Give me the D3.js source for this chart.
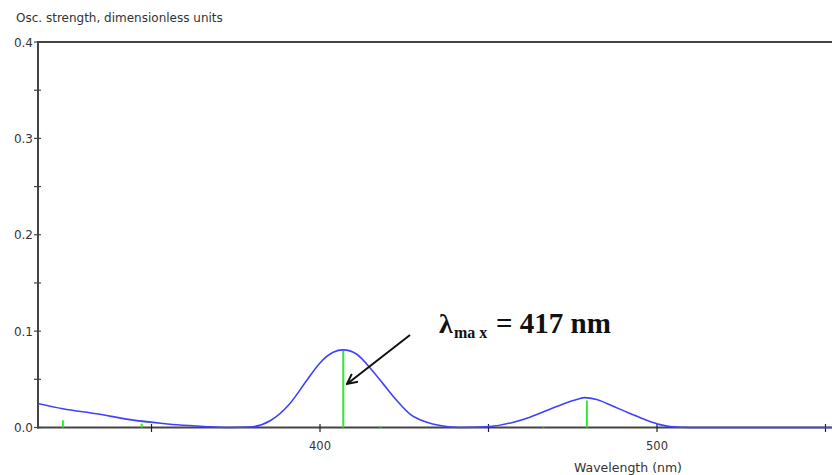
<!DOCTYPE html>
<html>
<head>
<meta charset="utf-8">
<script src="https://cdn.jsdelivr.net/npm/d3@7"></script>
<style>
  body { margin: 0; background: #fff; }
  svg { display: block; }
</style>
</head>
<body>
<div id="chart"></div>
<script>
// spectrum envelope (wavelength nm, oscillator strength)
const curveNm = [316.3, 323.7, 333.8, 343.6, 353.4, 358.5, 363.5, 368, 373.3, 379.2, 385.2, 391.1, 396.1, 400, 403.9, 406.9, 410.9, 414.8, 418.8, 422.8, 426.7, 431.7, 435.6, 441.5, 450.4, 457.4, 462.3, 467.3, 472.2, 476.2, 478.6, 482.1, 487, 492, 496.9, 500.9, 503.9, 510, 560];
const curveF  = [0.025, 0.0195, 0.0142, 0.0082, 0.0042, 0.0026, 0.0015, 0.0006, 0, 0.0005, 0.007, 0.025, 0.049, 0.067, 0.078, 0.0805, 0.076, 0.062, 0.045, 0.028, 0.014, 0.0055, 0.002, 0, 0.001, 0.0055, 0.0107, 0.0176, 0.0245, 0.029, 0.031, 0.029, 0.022, 0.0146, 0.0076, 0.003, 0.001, 0, 0];

// individual transitions
const stickNm = [323.7, 347.1, 406.9, 418.0, 466.3, 479.2];
const stickF  = [0.0075, 0.004, 0.0795, 0.0012, 0.0012, 0.028];

const xMajor = [400, 500];
const xMinor = [350, 450, 550];
const yMajor = [0, 0.1, 0.2, 0.3, 0.4];
const yMinor = [0.05, 0.15, 0.25, 0.35];

const w = 832, h = 475;
const x = d3.scaleLinear().domain([400, 500]).range([320, 657]);
const y = d3.scaleLinear().domain([0, 0.4]).range([427.5, 42]);

const svg = d3.select("#chart").append("svg")
  .attr("width", w).attr("height", h);

const axisCol = "#444";
const labFont = "'DejaVu Sans', sans-serif";

svg.append("defs").append("clipPath").attr("id", "plot")
  .append("rect").attr("x", 38).attr("y", 30).attr("width", w - 38).attr("height", 400);

// frame: top and axes
svg.append("line").attr("x1", 37).attr("x2", w).attr("y1", y(0.4)).attr("y2", y(0.4))
  .attr("stroke", axisCol).attr("stroke-width", 2);
svg.append("line").attr("x1", 38).attr("x2", 38).attr("y1", y(0.4)).attr("y2", y(0) + 1)
  .attr("stroke", axisCol).attr("stroke-width", 2);
svg.append("line").attr("x1", 37).attr("x2", w).attr("y1", y(0)).attr("y2", y(0))
  .attr("stroke", axisCol).attr("stroke-width", 2);

// y ticks
svg.selectAll(".yt").data(yMajor.concat(yMinor)).enter().append("line")
  .attr("x1", 34).attr("x2", 41).attr("y1", d => y(d)).attr("y2", d => y(d))
  .attr("stroke", axisCol).attr("stroke-width", 1.2);
svg.selectAll(".yl").data(yMajor).enter().append("text")
  .attr("x", 33).attr("y", d => y(d) + 4.5)
  .attr("text-anchor", "end")
  .style("font", "12px " + labFont).attr("fill", "#333")
  .text(d => d.toFixed(1));

// x ticks
svg.selectAll(".xt").data(xMajor.concat(xMinor)).enter().append("line")
  .attr("x1", d => x(d)).attr("x2", d => x(d)).attr("y1", 424).attr("y2", 432)
  .attr("stroke", "#222").attr("stroke-width", 1.2);
svg.selectAll(".xl").data(xMajor).enter().append("text")
  .attr("x", d => x(d)).attr("y", 450)
  .attr("text-anchor", "middle")
  .style("font", "11.5px " + labFont).attr("fill", "#333")
  .text(d => d);

svg.append("text").attr("x", 16).attr("y", 22)
  .style("font", "12px " + labFont).attr("fill", "#333")
  .text("Osc. strength, dimensionless units");
svg.append("text").attr("x", 628).attr("y", 472).attr("text-anchor", "middle")
  .style("font", "12.5px " + labFont).attr("fill", "#333")
  .text("Wavelength (nm)");

const g = svg.append("g").attr("clip-path", "url(#plot)");

// sticks
g.selectAll(".stick").data(stickNm).enter().append("line")
  .attr("x1", d => x(d)).attr("x2", d => x(d))
  .attr("y1", y(0)).attr("y2", (d, i) => y(stickF[i]))
  .attr("stroke", "#33e833").attr("stroke-width", 2);

// envelope
const line = d3.line()
  .x(d => x(d[0])).y(d => y(d[1]))
  .curve(d3.curveMonotoneX);
g.append("path").datum(curveNm.map((d, i) => [d, curveF[i]]))
  .attr("d", line).attr("fill", "none")
  .attr("stroke", "#4040ff").attr("stroke-width", 1.6);

// annotation arrow
svg.append("defs").append("marker").attr("id", "arr")
  .attr("viewBox", "0 0 12 12").attr("refX", 11).attr("refY", 6)
  .attr("markerWidth", 12).attr("markerHeight", 12).attr("markerUnits", "userSpaceOnUse")
  .attr("orient", "auto")
  .append("path").attr("d", "M1,1 L11,6 L1,11").attr("fill", "none")
  .attr("stroke", "#111").attr("stroke-width", 2);
svg.append("line")
  .attr("x1", 410).attr("y1", 335).attr("x2", 347).attr("y2", 384)
  .attr("stroke", "#111").attr("stroke-width", 2)
  .attr("marker-end", "url(#arr)");

const ann = svg.append("text").attr("x", 439).attr("y", 333)
  .style("font-family", "'Liberation Serif', 'Times New Roman', serif")
  .style("font-weight", "bold").attr("fill", "#111");
ann.append("tspan").style("font-size", "28px").text("λ");
ann.append("tspan").style("font-size", "16px").attr("dy", 5).attr("x", 454).text("ma x");
ann.append("tspan").style("font-size", "29px").attr("dy", -5).attr("x", 496).text("= 417 nm");
</script>
</body>
</html>
